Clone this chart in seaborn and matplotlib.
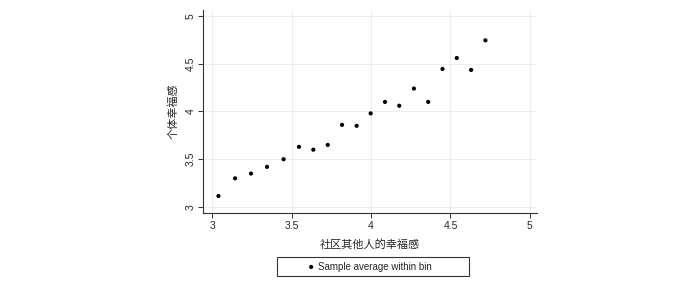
import matplotlib.pyplot as plt
import pandas as pd
import seaborn as sns
from matplotlib.patches import Rectangle

sns.set_style("whitegrid")
plt.rcParams["font.family"] = ["Liberation Sans", "Noto Sans CJK SC", "DejaVu Sans"]

# binned averages
others_happiness = [3.04, 3.145, 3.245, 3.346, 3.45, 3.547, 3.637, 3.728, 3.818, 3.91,
                    3.998, 4.088, 4.178, 4.27, 4.36, 4.45, 4.54, 4.63, 4.72]
own_happiness = [3.115, 3.30, 3.35, 3.42, 3.50, 3.63, 3.60, 3.65, 3.86, 3.85,
                 3.98, 4.10, 4.06, 4.24, 4.10, 4.445, 4.56, 4.435, 4.745]
ticks = [3, 3.5, 4, 4.5, 5]
tick_labels = ["3", "3.5", "4", "4.5", "5"]

df = pd.DataFrame({"x": others_happiness, "y": own_happiness})

fig = plt.figure(figsize=(7, 2.84), dpi=100)
ax = fig.add_axes([0.29, 0.25, 0.477, 0.715])

sns.scatterplot(data=df, x="x", y="y", ax=ax, color="black", s=9,
                edgecolor="none", label="Sample average within bin", legend=False)

ax.set_xlim(2.943, 5.044)
ax.set_ylim(2.937, 5.063)
ax.set_xticks(ticks)
ax.set_xticklabels(tick_labels)
ax.set_yticks(ticks)
ax.set_yticklabels(tick_labels, rotation=90, va="center")
ax.grid(True, color="#ededed", linewidth=0.8)
ax.tick_params(axis="both", direction="out", length=3.5, width=0.7,
               color="#333333", labelsize=7.5, pad=2, left=True, bottom=True)

for side in ["top", "right"]:
    ax.spines[side].set_visible(False)
for side in ["left", "bottom"]:
    ax.spines[side].set_color("#333333")
    ax.spines[side].set_linewidth(0.8)

ax.set_xlabel("社区其他人的幸福感", fontsize=8, labelpad=6,
              family=["Noto Sans CJK SC", "DejaVu Sans"])
ax.set_ylabel("个体幸福感", fontsize=8, labelpad=5,
              family=["Noto Sans CJK SC", "DejaVu Sans"])

# legend box, Stata style: wide frame around a single entry
fig.patches.append(Rectangle((277 / 700, 1 - 276 / 284), 192 / 700, 19 / 284,
                             transform=fig.transFigure, fill=False,
                             edgecolor="#333333", linewidth=0.8))
handles, labels = ax.get_legend_handles_labels()
fig.legend(handles, labels, loc="center", bbox_to_anchor=(369 / 700, 1 - 266.5 / 284),
           fontsize=7, frameon=False, handletextpad=0.2, handlelength=1.0,
           borderpad=0)

fig.savefig("out.png", dpi=100)
